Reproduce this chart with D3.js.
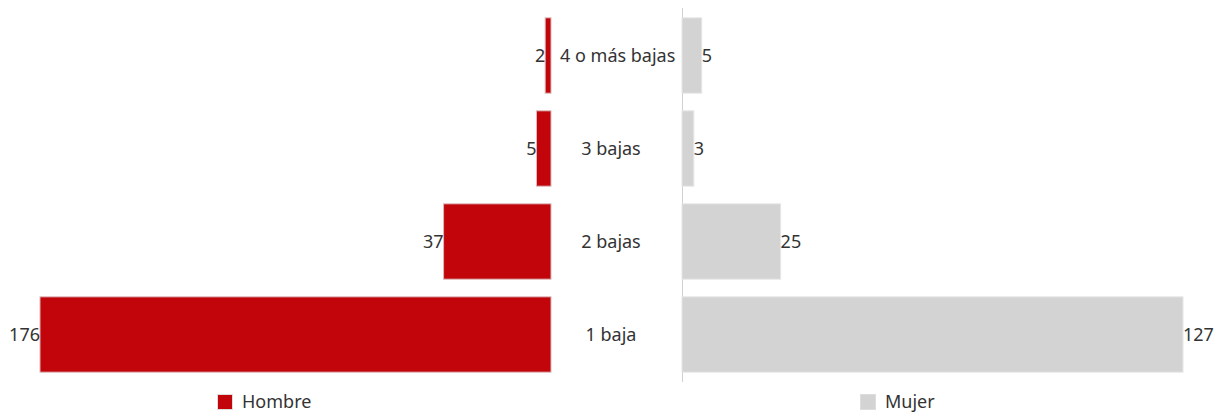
<!DOCTYPE html>
<html><head><meta charset="utf-8">
<script src="https://cdn.jsdelivr.net/npm/d3@7"></script>
<style>html,body{margin:0;padding:0;background:#fff;}svg{display:block;font-family:"Noto Sans",sans-serif;}</style>
</head><body><svg id="c" width="1216" height="414"></svg>
<script>
const categories = ["4 o más bajas", "3 bajas", "2 bajas", "1 baja"];
const hombre = [2, 5, 37, 176];
const mujer = [5, 3, 25, 127];
const seriesNames = ["Hombre", "Mujer"];
const colors = {Hombre: "#C1050B", Mujer: "#D3D3D3"};

const svg = d3.select("#c");
const y = d3.scaleBand().domain(categories).range([9, 381]).paddingInner(0.19).paddingOuter(0.095);
const xL = d3.scaleLinear().domain([0, d3.max(hombre)]).range([551, 40]);
const xR = d3.scaleLinear().domain([0, d3.max(mujer)]).range([682, 1183]);

// axis line
svg.append("line").attr("x1", 682.5).attr("x2", 682.5).attr("y1", 8).attr("y2", 382)
  .attr("stroke", "#d0d0d0").attr("stroke-width", 1);

const txt = "#333333";
const fs = "18px";

// left bars
svg.selectAll(".bl").data(categories).join("rect")
  .attr("x", (d, i) => xL(hombre[i])).attr("y", d => y(d))
  .attr("width", (d, i) => xL(0) - xL(hombre[i])).attr("height", y.bandwidth())
  .attr("fill", colors.Hombre).attr("stroke", "#dcb8b8").attr("stroke-width", 1);
svg.selectAll(".vl").data(categories).join("text")
  .attr("x", (d, i) => xL(hombre[i])).attr("y", d => y(d) + y.bandwidth() / 2)
  .attr("dy", "0.35em").attr("text-anchor", "end").attr("fill", txt).style("font-size", fs)
  .text((d, i) => hombre[i]);

// right bars
svg.selectAll(".br").data(categories).join("rect")
  .attr("x", xR(0)).attr("y", d => y(d))
  .attr("width", (d, i) => xR(mujer[i]) - xR(0)).attr("height", y.bandwidth())
  .attr("fill", colors.Mujer).attr("stroke", "#e6e6e6").attr("stroke-width", 1);
svg.selectAll(".vr").data(categories).join("text")
  .attr("x", (d, i) => xR(mujer[i])).attr("y", d => y(d) + y.bandwidth() / 2)
  .attr("dy", "0.35em").attr("text-anchor", "start").attr("fill", txt).style("font-size", fs)
  .text((d, i) => mujer[i]);

// category labels (centred, but kept clear of the left bars)
svg.selectAll(".cl").data(categories).join("text")
  .attr("y", d => y(d) + y.bandwidth() / 2)
  .attr("dy", "0.35em").attr("text-anchor", "middle").attr("fill", txt).style("font-size", fs)
  .text(d => d)
  .attr("x", function() {
    const w = this.getComputedTextLength();
    return Math.max(611, 560 + w / 2);
  });

// legend
const legPos = [{x: 217, name: seriesNames[0]}, {x: 860, name: seriesNames[1]}];
const lg = svg.selectAll(".lg").data(legPos).join("g").attr("transform", d => `translate(${d.x},394)`);
lg.append("rect").attr("width", 15).attr("height", 15).attr("x", 0.5).attr("y", 0.5)
  .attr("fill", d => colors[d.name]).attr("stroke", "#dddddd");
lg.append("text").attr("x", 25).attr("y", 8).attr("dy", "0.35em").attr("fill", txt)
  .style("font-size", fs).text(d => d.name);
</script></body></html>
